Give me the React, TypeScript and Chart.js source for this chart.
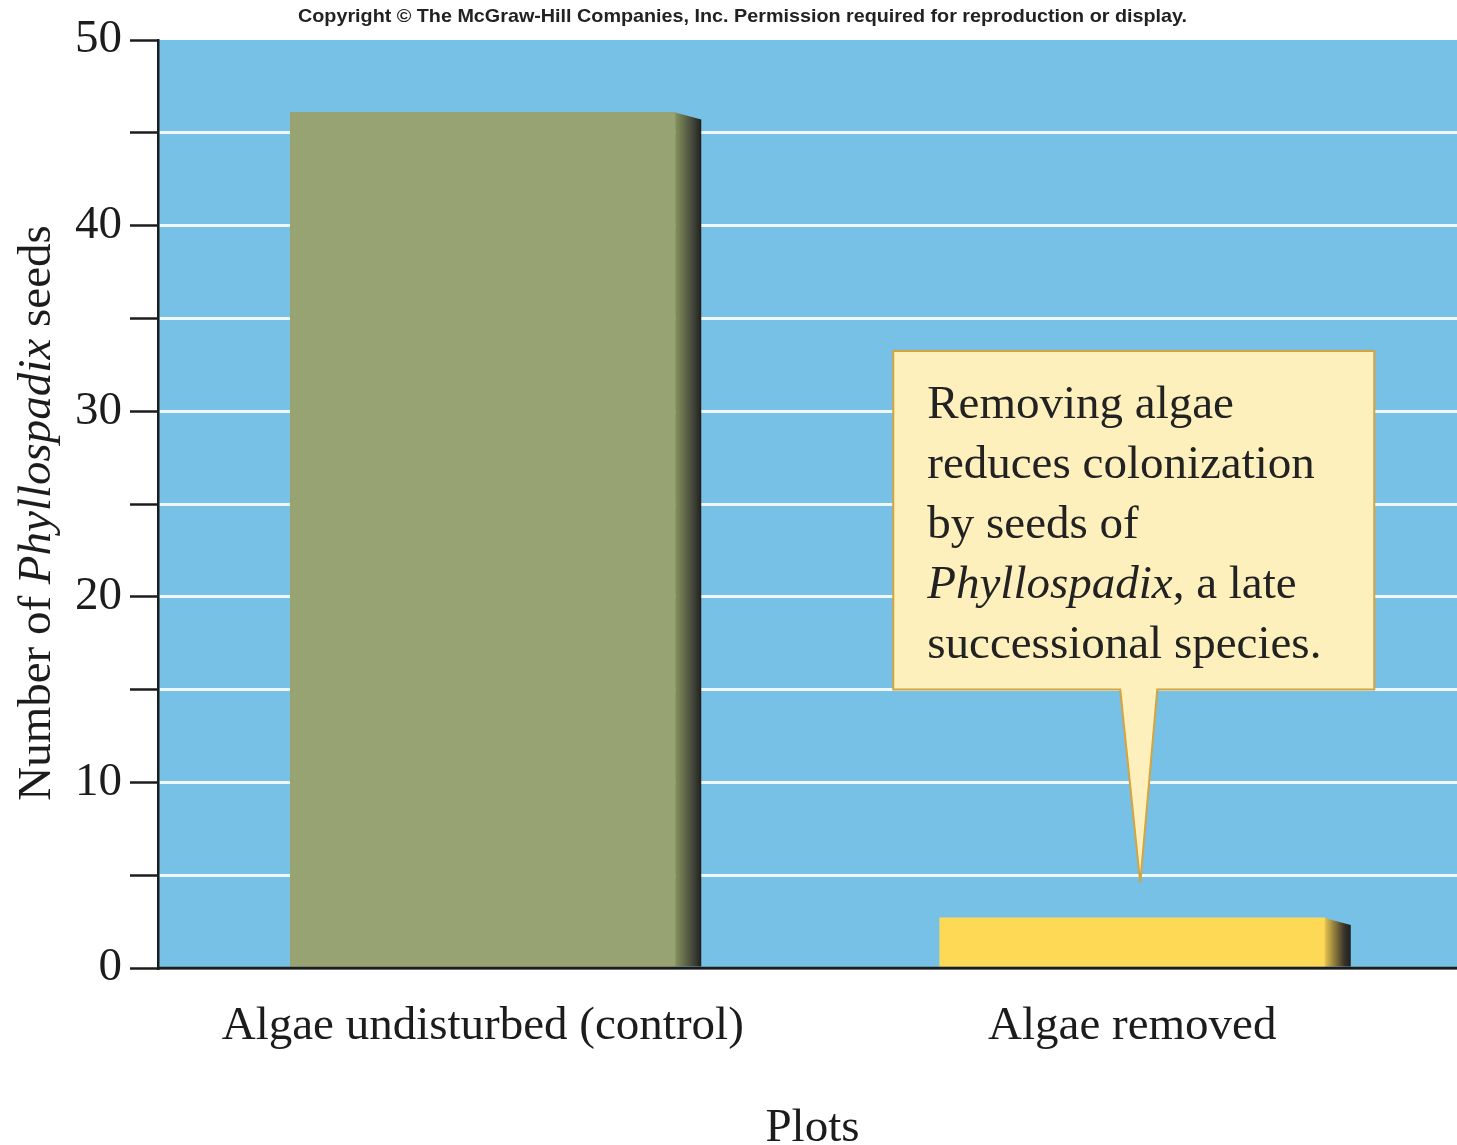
import { useEffect, useRef } from 'react';
import { Chart, registerables } from 'chart.js';

Chart.register(...registerables);

// ---------- data ----------
const categories = ['Algae undisturbed (control)', 'Algae removed'];
const seedCounts = [46.1, 2.7];
const barFaceColors = ['#98a373', '#fdd956'];
const barSideLight = ['#86915d', '#e6c44f'];
const barSideDark = ['#3c3e36', '#38342a'];

const yMin = 0;
const yMax = 50;
const yStep = 5;
const yLabelEvery = 10;

const yTitleParts = [
  { text: 'Number of ', italic: false },
  { text: 'Phyllospadix', italic: true },
  { text: ' seeds', italic: false },
];
const xTitle = 'Plots';
const copyrightText =
  'Copyright © The McGraw-Hill Companies, Inc. Permission required for reproduction or display.';

const calloutLines = [
  [{ text: 'Removing algae', italic: false }],
  [{ text: 'reduces colonization', italic: false }],
  [{ text: 'by seeds of', italic: false }],
  [
    { text: 'Phyllospadix', italic: true },
    { text: ', a late', italic: false },
  ],
  [{ text: 'successional species.', italic: false }],
];
const calloutTopValue = 33.25;
const calloutBottomValue = 15.0;
const calloutTipValue = 4.6;

// ---------- styles ----------
const SERIF = '"Liberation Serif", "Times New Roman", Times, serif';
const PLOT_BG = '#78c1e6';
const INK = '#1c1c1c';
const FONT_SIZE = 47;

type Part = { text: string; italic: boolean };

function drawParts(ctx: CanvasRenderingContext2D, parts: Part[], x: number, y: number, size: number, align: 'left' | 'center') {
  const fontFor = (p: Part) => `${p.italic ? 'italic ' : ''}${size}px ${SERIF}`;
  let total = 0;
  const widths = parts.map((p) => {
    ctx.font = fontFor(p);
    const w = ctx.measureText(p.text).width;
    total += w;
    return w;
  });
  let cx = align === 'center' ? x - total / 2 : x;
  ctx.textAlign = 'left';
  ctx.textBaseline = 'alphabetic';
  parts.forEach((p, i) => {
    ctx.font = fontFor(p);
    ctx.fillText(p.text, cx, y);
    cx += widths[i];
  });
}

const decorPlugin = {
  id: 'decor',
  beforeDraw(chart: any) {
    const { ctx, chartArea: a, width, height } = chart;
    ctx.save();
    ctx.fillStyle = '#ffffff';
    ctx.fillRect(0, 0, width, height);
    ctx.fillStyle = PLOT_BG;
    ctx.fillRect(a.left, a.top, a.right - a.left, a.bottom - a.top);
    ctx.restore();
  },
  afterDatasetsDraw(chart: any) {
    const { ctx, chartArea: a } = chart;
    const meta = chart.getDatasetMeta(0);
    ctx.save();
    meta.data.forEach((el: any, i: number) => {
      const { x, y, width, base } = el.getProps(['x', 'y', 'width', 'base'], true);
      const right = x + width / 2;
      const depth = 26;
      const drop = 7;
      const g = ctx.createLinearGradient(right, 0, right + depth, 0);
      g.addColorStop(0, barSideLight[i]);
      g.addColorStop(0.75, barSideDark[i]);
      g.addColorStop(1, '#1e1f1c');
      ctx.fillStyle = g;
      ctx.beginPath();
      ctx.moveTo(right, y);
      ctx.lineTo(right + depth, y + drop);
      ctx.lineTo(right + depth, base);
      ctx.lineTo(right, base);
      ctx.closePath();
      ctx.fill();
    });
    // baseline over bars
    ctx.strokeStyle = INK;
    ctx.lineWidth = 2.5;
    ctx.beginPath();
    ctx.moveTo(a.left, a.bottom);
    ctx.lineTo(a.right, a.bottom);
    ctx.stroke();
    ctx.restore();
  },
  afterDraw(chart: any) {
    const { ctx, chartArea: a } = chart;
    const ys = chart.scales.y;
    ctx.save();

    // copyright line
    ctx.fillStyle = '#222';
    ctx.font = `bold 19px "Liberation Sans Narrow", "Liberation Sans", Arial, sans-serif`;
    const cw = ctx.measureText(copyrightText).width;
    const targetW = 889;
    const cxCenter = (a.left + a.right) / 2 - 65;
    ctx.save();
    ctx.translate(cxCenter, 22);
    ctx.scale(targetW / cw, 1);
    ctx.textAlign = 'center';
    ctx.textBaseline = 'alphabetic';
    ctx.fillText(copyrightText, 0, 0);
    ctx.restore();

    // y title
    ctx.fillStyle = INK;
    ctx.save();
    ctx.translate(50, (a.top + a.bottom) / 2 + 9);
    ctx.rotate(-Math.PI / 2);
    drawParts(ctx, yTitleParts, 0, 0, FONT_SIZE, 'center');
    ctx.restore();

    // x title
    drawParts(ctx, [{ text: xTitle, italic: false }], (a.left + a.right) / 2 + 5, 1141, FONT_SIZE, 'center');

    // callout
    const bar = chart.getDatasetMeta(0).data[1];
    const bx = bar.x;
    const top = ys.getPixelForValue(calloutTopValue);
    const bottom = ys.getPixelForValue(calloutBottomValue);
    const tipY = ys.getPixelForValue(calloutTipValue);
    const left = bx - 239;
    const right = bx + 242;
    const tipX = bx + 8;
    ctx.beginPath();
    ctx.moveTo(left, top);
    ctx.lineTo(right, top);
    ctx.lineTo(right, bottom);
    ctx.lineTo(tipX + 17, bottom);
    ctx.lineTo(tipX, tipY);
    ctx.lineTo(tipX - 20, bottom);
    ctx.lineTo(left, bottom);
    ctx.closePath();
    ctx.fillStyle = '#fdf0bd';
    ctx.fill();
    ctx.strokeStyle = '#d4a43e';
    ctx.lineWidth = 2;
    ctx.stroke();

    ctx.fillStyle = '#222';
    calloutLines.forEach((line, i) => {
      drawParts(ctx, line as Part[], left + 34, top + 67 + i * 60, FONT_SIZE, 'left');
    });

    ctx.restore();
  },
};

export default function App() {
  const canvasRef = useRef<HTMLCanvasElement>(null);

  useEffect(() => {
    document.body.style.margin = '0';
    const canvas = canvasRef.current!;
    const chart = new Chart(canvas, {
      type: 'bar',
      data: {
        labels: categories,
        datasets: [
          {
            data: seedCounts,
            backgroundColor: barFaceColors,
            borderWidth: 0,
            barThickness: 385,
          },
        ],
      },
      options: {
        responsive: false,
        animation: false,
        devicePixelRatio: 1,
        layout: { padding: { top: 40, left: 0, right: 0, bottom: 0 } },
        plugins: {
          legend: { display: false },
          tooltip: { enabled: false },
          title: { display: false },
        },
        scales: {
          x: {
            type: 'category',
            offset: true,
            grid: { display: false, drawTicks: false },
            border: { display: true, color: INK, width: 2.5 },
            ticks: {
              font: { family: SERIF, size: FONT_SIZE },
              color: INK,
              padding: 30,
              maxRotation: 0,
              autoSkip: false,
            },
            afterFit: (scale: any) => {
              scale.height = 177;
            },
          },
          y: {
            type: 'linear',
            min: yMin,
            max: yMax,
            grid: {
              color: (c: any) =>
                c.tick && (c.tick.value === yMin || c.tick.value === yMax) ? 'rgba(0,0,0,0)' : '#eef8fd',
              lineWidth: 3,
              drawTicks: true,
              tickLength: 28,
              tickColor: INK,
              tickWidth: 2.5,
            },
            border: { display: true, color: INK, width: 2.5 },
            ticks: {
              stepSize: yStep,
              autoSkip: false,
              font: { family: SERIF, size: FONT_SIZE },
              color: INK,
              padding: 8,
              callback: (v: any) => (Number(v) % yLabelEvery === 0 ? String(v) : ''),
            },
            afterFit: (scale: any) => {
              scale.width = 158;
            },
          },
        },
      },
      plugins: [decorPlugin],
    });
    return () => chart.destroy();
  }, []);

  return (
    <canvas
      ref={canvasRef}
      width={1457}
      height={1145}
      style={{ display: 'block', width: 1457, height: 1145 }}
    />
  );
}
